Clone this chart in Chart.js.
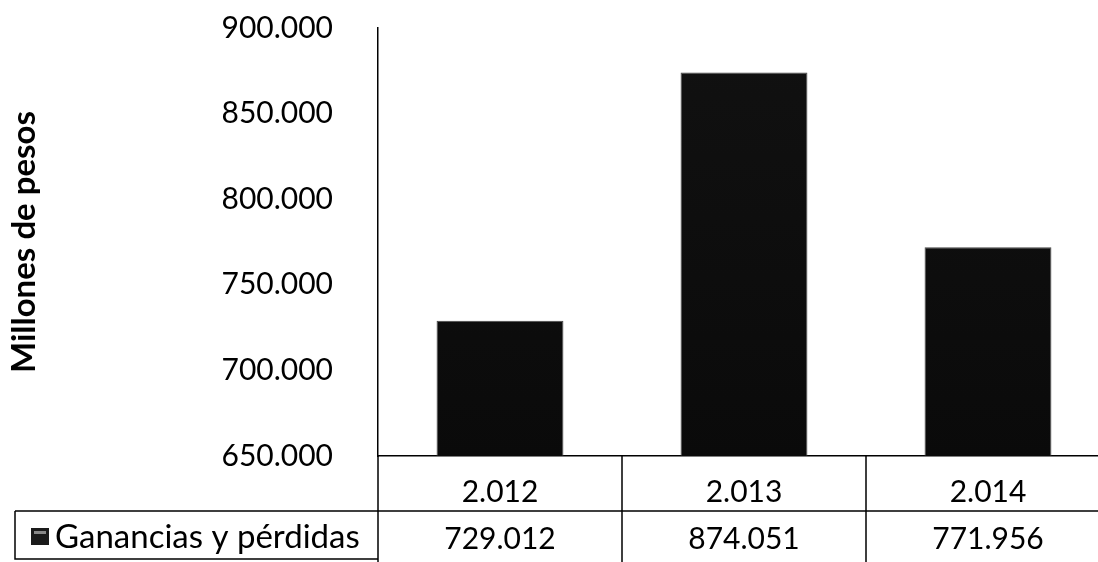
<!DOCTYPE html>
<html>
<head>
<meta charset="utf-8">
<script src="https://cdn.jsdelivr.net/npm/chart.js@4"></script>
<style>
  html, body { margin: 0; padding: 0; background: #fff; overflow: hidden; }
  #wrap { width: 1112px; height: 562px; }
</style>
</head>
<body>
<div id="wrap"><canvas id="chart"></canvas></div>
<script>
// data
const years = ['2.012', '2.013', '2.014'];
const ganancias = [729012, 874051, 771956];
const serieLabel = 'Ganancias y pérdidas';
const yMin = 650000, yMax = 900000, yStep = 50000;

const FONT = 'Lato, "Open Sans", sans-serif';

function fmt(v) {
    return String(v).replace(/\B(?=(\d{3})+(?!\d))/g, '.');
}

// draws the data table under the plot (second row + borders)
const dataTable = {
    id: 'dataTable',
    afterDraw(chart) {
        const {ctx, chartArea, scales: {x}} = chart;
        const top = chartArea.bottom;
        const rowY = 511, bottom = 559, leftEdge = 15;
        const colW = (chartArea.right - chartArea.left) / years.length;

        ctx.save();
        ctx.strokeStyle = '#000';
        ctx.lineWidth = 1.5;
        ctx.beginPath();
        ctx.moveTo(leftEdge, rowY);
        ctx.lineTo(chartArea.right, rowY);
        for (let i = 0; i <= years.length; i++) {
            let px = chartArea.left + i * colW;
            ctx.moveTo(px, top);
            ctx.lineTo(px, 562);
        }
        ctx.moveTo(leftEdge, rowY);
        ctx.lineTo(leftEdge, bottom);
        ctx.lineTo(chartArea.left, bottom);
        ctx.stroke();

        // legend key
        ctx.fillStyle = '#1a1a1a';
        ctx.fillRect(31, 528, 18, 17);
        ctx.fillStyle = '#888';
        ctx.fillRect(34, 531, 12, 3);

        ctx.fillStyle = '#000';
        ctx.textBaseline = 'middle';
        ctx.textAlign = 'left';
        ctx.font = '33px ' + FONT;
        ctx.fillText(serieLabel, 55, 537);
        ctx.font = '30px ' + FONT;
        ctx.textAlign = 'center';
        ganancias.forEach((v, i) => {
            ctx.fillText(fmt(v), x.getPixelForValue(i), 539);
        });
        ctx.restore();
    }
};

const ctx = document.getElementById('chart').getContext('2d');
const grad = ctx.createLinearGradient(0, 0, 0, 460);
grad.addColorStop(0, '#2a2a2a');
grad.addColorStop(0.08, '#111');
grad.addColorStop(1, '#0a0a0a');

new Chart(ctx, {
    type: 'bar',
    data: {
        labels: years,
        datasets: [{
            label: serieLabel,
            data: ganancias,
            backgroundColor: grad,
            borderColor: '#444',
            borderWidth: 1,
            categoryPercentage: 1,
            barPercentage: 0.52
        }]
    },
    options: {
        responsive: true,
        maintainAspectRatio: false,
        animation: false,
        layout: { padding: { top: 28, right: 2, left: 0, bottom: 0 } },
        plugins: {
            legend: { display: false },
            tooltip: { enabled: false }
        },
        scales: {
            x: {
                grid: { display: false },
                border: { display: true, color: '#000', width: 1.5 },
                ticks: {
                    color: '#000',
                    font: { family: FONT, size: 30 },
                    padding: 10
                },
                afterFit(scale) { scale.height = 106; }
            },
            y: {
                min: yMin,
                max: yMax,
                grid: { display: false },
                border: { display: true, color: '#000', width: 1.5 },
                ticks: {
                    stepSize: yStep,
                    color: '#000',
                    font: { family: FONT, size: 30 },
                    padding: 37,
                    callback: (v) => fmt(v)
                },
                title: {
                    display: true,
                    text: 'Millones de pesos',
                    color: '#000',
                    font: { family: FONT, size: 33, weight: 'bold' },
                    padding: { top: 5, bottom: 0 }
                },
                afterFit(scale) {
                    scale.width = 378;
                    // tick padding would otherwise push the plot down
                    scale.paddingTop = 0;
                    scale.paddingBottom = 0;
                }
            }
        }
    },
    plugins: [dataTable]
});
</script>
</body>
</html>
